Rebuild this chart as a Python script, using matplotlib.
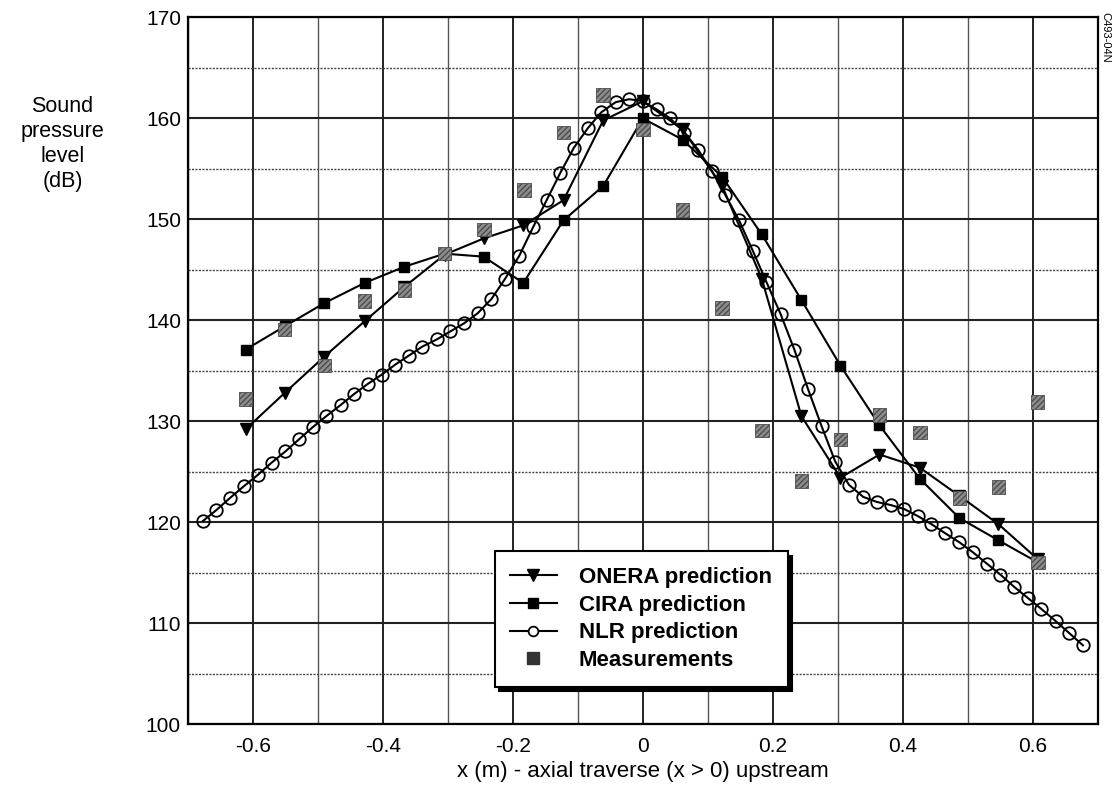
import matplotlib
matplotlib.use("Agg")
from matplotlib import pyplot as plt
from matplotlib.lines import Line2D
from matplotlib.ticker import MultipleLocator

plt.rcParams["font.family"] = ["Liberation Sans", "DejaVu Sans"]

# ONERA / CIRA predictions and the measurements share the same traverse stations
station_x = [-0.611, -0.551, -0.490, -0.428, -0.367, -0.305, -0.245, -0.184, -0.122, -0.061, 0.0,
             0.061, 0.122, 0.183, 0.244, 0.304, 0.364, 0.426, 0.487, 0.547, 0.608]
onera_db = [129.2, 132.8, 136.4, 139.9, 143.3, 146.5, 148.1, 149.4, 151.9, 159.8, 161.7,
            158.9, 153.3, 144.1, 130.5, 124.4, 126.7, 125.4, 122.6, 119.8, 116.3]
cira_db = [137.1, 139.4, 141.7, 143.7, 145.3, 146.6, 146.3, 143.7, 149.9, 153.3, 160.0,
           157.9, 154.2, 148.5, 142.0, 135.5, 129.6, 124.3, 120.4, 118.2, 116.0]

meas_x = [-0.611, -0.551, -0.490, -0.428, -0.367, -0.305, -0.244, -0.183, -0.122, -0.061, 0.0,
          0.061, 0.122, 0.183, 0.244, 0.304, 0.364, 0.426, 0.487, 0.547, 0.607, 0.608]
meas_db = [132.2, 139.1, 135.5, 141.9, 143.0, 146.6, 149.0, 152.9, 158.6, 162.3, 158.9,
           150.9, 141.2, 129.1, 124.1, 128.2, 130.6, 128.9, 122.4, 123.5, 131.9, 116.0]

nlr_x = [-0.677, -0.656, -0.635, -0.613, -0.592, -0.571, -0.550, -0.529, -0.508, -0.487,
         -0.465, -0.444, -0.423, -0.402, -0.381, -0.360, -0.339, -0.317, -0.296, -0.275,
         -0.254, -0.233, -0.212, -0.190, -0.169, -0.148, -0.127, -0.106, -0.085, -0.064,
         -0.042, -0.021, 0.0, 0.021, 0.042, 0.064, 0.085, 0.106, 0.127, 0.148,
         0.169, 0.190, 0.212, 0.233, 0.254, 0.275, 0.296, 0.317, 0.339, 0.360,
         0.381, 0.402, 0.423, 0.444, 0.465, 0.487, 0.508, 0.529, 0.550, 0.571,
         0.592, 0.613, 0.635, 0.656, 0.677]
nlr_db = [120.1, 121.2, 122.4, 123.6, 124.7, 125.9, 127.0, 128.2, 129.4, 130.5,
          131.6, 132.7, 133.7, 134.6, 135.6, 136.5, 137.4, 138.1, 138.9, 139.7,
          140.7, 142.1, 144.1, 146.4, 149.2, 151.9, 154.6, 157.1, 159.0, 160.6,
          161.6, 161.9, 161.7, 160.9, 160.0, 158.6, 156.9, 154.8, 152.4, 149.9,
          146.9, 143.8, 140.6, 137.1, 133.2, 129.5, 126.0, 123.7, 122.5, 122.0,
          121.7, 121.3, 120.6, 119.8, 118.9, 118.0, 117.0, 115.9, 114.8, 113.6,
          112.5, 111.4, 110.2, 109.0, 107.8]

legend_labels = ["ONERA prediction", "CIRA prediction", "NLR prediction", "Measurements"]

fig = plt.figure(figsize=(11.18, 7.93), dpi=100)
ax = fig.add_axes([0.168, 0.087, 0.814, 0.891])

ax.set_xlim(-0.7, 0.7)
ax.set_ylim(100, 170)
ax.xaxis.set_major_locator(MultipleLocator(0.2))
ax.xaxis.set_minor_locator(MultipleLocator(0.1))
ax.yaxis.set_major_locator(MultipleLocator(10))
ax.yaxis.set_minor_locator(MultipleLocator(5))
ax.set_xticks([-0.6, -0.4, -0.2, 0, 0.2, 0.4, 0.6])
ax.set_xticklabels(["-0.6", "-0.4", "-0.2", "0", "0.2", "0.4", "0.6"])

ax.grid(which="major", axis="x", color="#222222", linewidth=1.4, linestyle="-")
ax.grid(which="minor", axis="x", color="#555555", linewidth=1.0, linestyle="-")
ax.grid(which="major", axis="y", color="#222222", linewidth=1.5, linestyle="-")
ax.grid(which="minor", axis="y", color="#444444", linewidth=1.0, linestyle=(0, (1.5, 1.0)))
ax.set_axisbelow(True)

ax.tick_params(which="both", length=0, labelsize=15)
ax.tick_params(axis="x", pad=9)
ax.tick_params(axis="y", pad=5)
for s in ax.spines.values():
    s.set_linewidth(1.6)

ax.scatter(meas_x, meas_db, marker="s", s=95, facecolor="0.55", edgecolor="0.3",
           hatch="//////", linewidths=0.6, zorder=4)

ax.plot(station_x, onera_db, color="black", lw=1.5, marker="v", ms=9, zorder=3)
ax.plot(station_x, cira_db, color="black", lw=1.5, marker="s", ms=7.5, zorder=3)
ax.plot(nlr_x, nlr_db, color="black", lw=1.5, marker="o", ms=9, mfc="none",
        mec="black", mew=1.3, zorder=3)

handles = [
    Line2D([], [], color="black", lw=1.5, marker="v", ms=9),
    Line2D([], [], color="black", lw=1.5, marker="s", ms=7),
    Line2D([], [], color="black", lw=1.5, marker="o", ms=7, mfc="white", mew=1.3),
    Line2D([], [], ls="none", marker="s", ms=9, color="0.2"),
]
leg = ax.legend(handles, legend_labels, loc="lower left", bbox_to_anchor=(0.337, 0.053),
                prop={"weight": "bold", "size": 16}, frameon=True, fancybox=False,
                framealpha=1, edgecolor="black", handlelength=2.1, handletextpad=1.0,
                labelspacing=0.3, borderpad=0.7, borderaxespad=0,
                shadow={"color": "black", "alpha": 1, "ox": 3, "oy": -3})
leg.get_frame().set_linewidth(1.5)
leg.set_zorder(10)

ax.set_xlabel("x (m) - axial traverse (x > 0) upstream", fontsize=16, labelpad=4)
fig.text(0.056, 0.818, "Sound\npressure\nlevel\n(dB)", fontsize=15.5, ha="center",
         va="center", linespacing=1.25)
fig.text(0.9885, 0.985, "C493-04N", fontsize=8, rotation=270, ha="center", va="top")

fig.savefig("out.png", dpi=100)
